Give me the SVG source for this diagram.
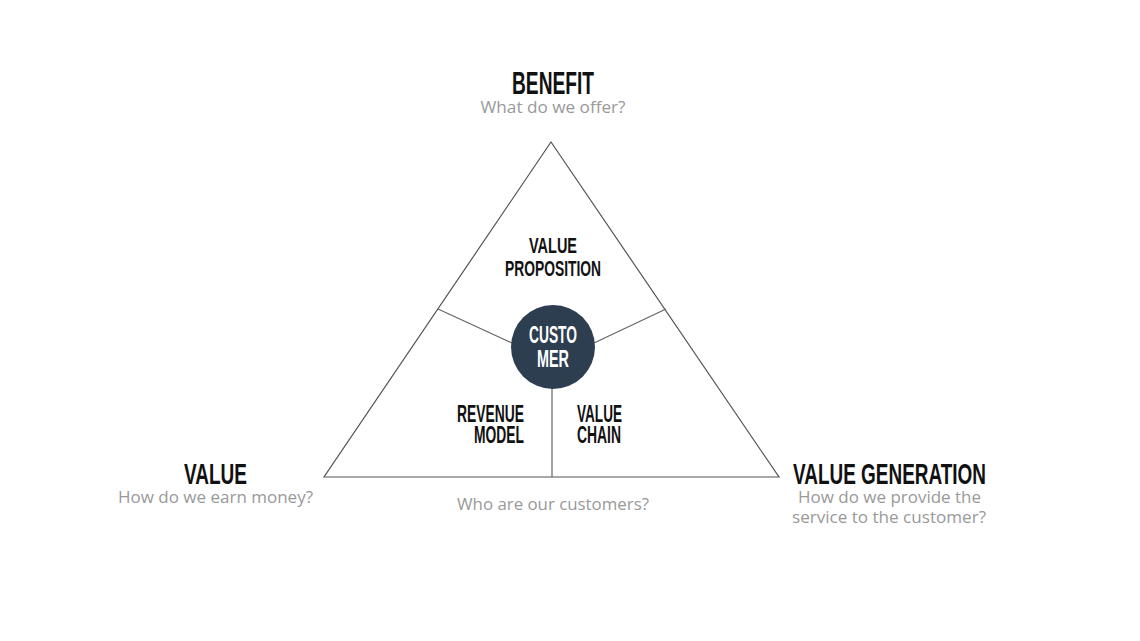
<svg xmlns="http://www.w3.org/2000/svg" width="1140" height="641" viewBox="0 0 1140 641">
<style>
.h{font-family:"Liberation Sans",Arial,sans-serif;font-weight:bold;fill:#111;}
.s{font-family:"Open Sans","Liberation Sans",sans-serif;font-size:16px;fill:#999;}
.w{fill:#fff;}
.ln{stroke:#555;stroke-width:1.2;fill:none;}
.in{stroke:#666;stroke-width:1.2;fill:none;}
</style>
<rect width="1140" height="641" fill="#fff"/>
<g id="triangle">
<polygon class="ln" points="551,142 324,477 779,477"/>
</g>
<g id="connectors">
<line class="in" x1="438" y1="309" x2="512" y2="343"/>
<line class="in" x1="666" y1="309" x2="594" y2="343"/>
<line class="in" x1="552" y1="388" x2="552" y2="477"/>
</g>
<g id="benefit">
<text class="h" x="512" y="94" font-size="31" textLength="82" lengthAdjust="spacingAndGlyphs">BENEFIT</text>
<text class="s" x="553" y="113" text-anchor="middle" textLength="145" lengthAdjust="spacingAndGlyphs">What do we offer?</text>
</g>
<g id="value-proposition">
<text class="h" x="529" y="253" font-size="22" textLength="48" lengthAdjust="spacingAndGlyphs">VALUE</text>
<text class="h" x="505" y="276" font-size="22" textLength="96" lengthAdjust="spacingAndGlyphs">PROPOSITION</text>
</g>
<g id="customer">
<circle cx="553" cy="347" r="42" fill="#2d3e50"/>
<text class="h w" x="529" y="343" font-size="24" textLength="48" lengthAdjust="spacingAndGlyphs">CUSTO</text>
<text class="h w" x="537" y="367" font-size="24" textLength="32" lengthAdjust="spacingAndGlyphs">MER</text>
</g>
<g id="revenue-model">
<text class="h" x="457" y="422" font-size="23" textLength="67" lengthAdjust="spacingAndGlyphs">REVENUE</text>
<text class="h" x="474" y="443" font-size="23" textLength="50" lengthAdjust="spacingAndGlyphs">MODEL</text>
</g>
<g id="value-chain">
<text class="h" x="577" y="422" font-size="23" textLength="45" lengthAdjust="spacingAndGlyphs">VALUE</text>
<text class="h" x="577" y="443" font-size="23" textLength="44" lengthAdjust="spacingAndGlyphs">CHAIN</text>
</g>
<g id="value">
<text class="h" x="184" y="484" font-size="30" textLength="63" lengthAdjust="spacingAndGlyphs">VALUE</text>
<text class="s" x="118" y="503" textLength="195" lengthAdjust="spacingAndGlyphs">How do we earn money?</text>
</g>
<g id="value-generation">
<text class="h" x="793" y="484" font-size="30" textLength="193" lengthAdjust="spacingAndGlyphs">VALUE GENERATION</text>
<text class="s" x="798" y="503" textLength="183" lengthAdjust="spacingAndGlyphs">How do we provide the</text>
<text class="s" x="792" y="523" textLength="194" lengthAdjust="spacingAndGlyphs">service to the customer?</text>
</g>
<g id="customers-question">
<text class="s" x="457" y="510" textLength="192" lengthAdjust="spacingAndGlyphs">Who are our customers?</text>
</g>
</svg>
